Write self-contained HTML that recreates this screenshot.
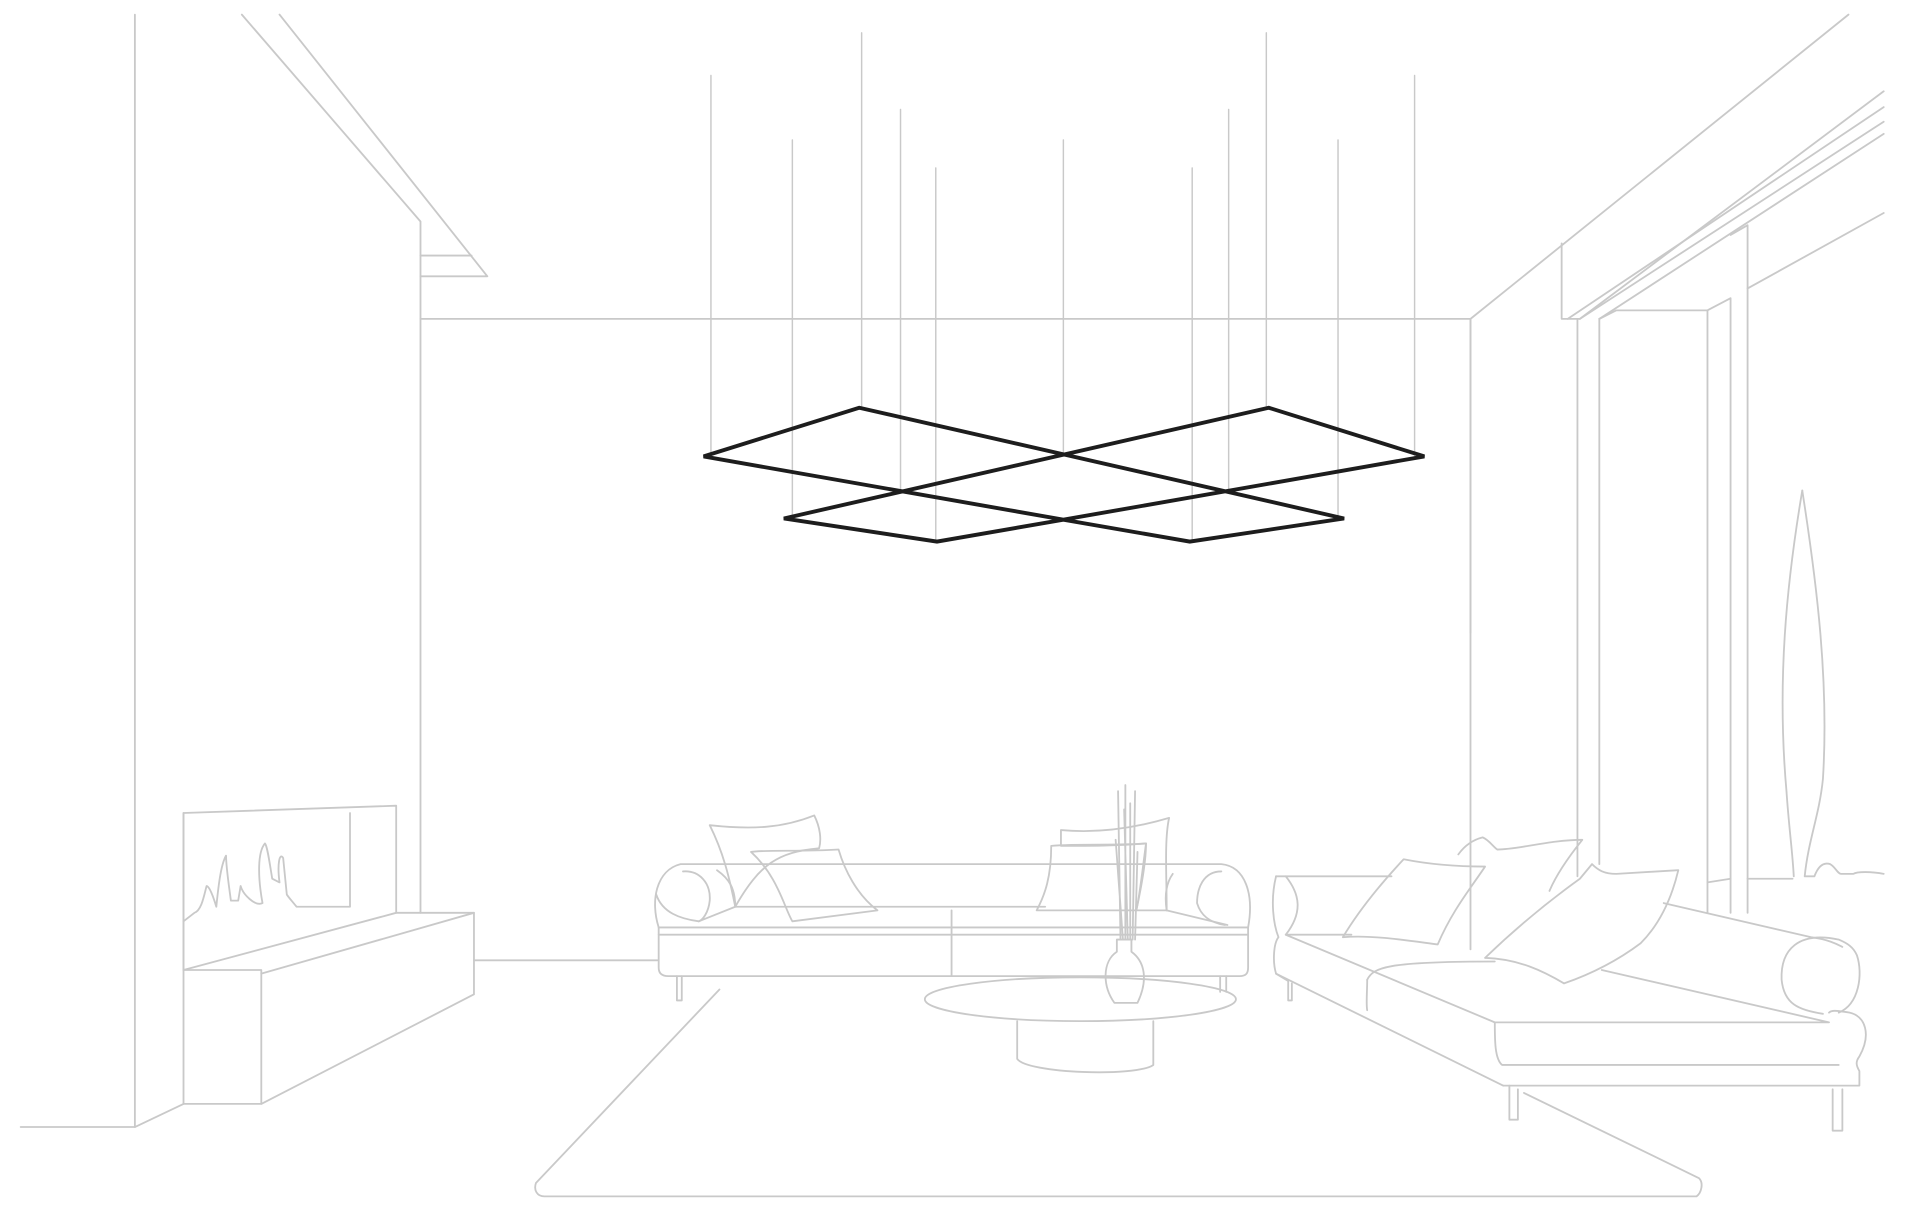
<!DOCTYPE html>
<html><head><meta charset="utf-8"><style>
html,body{margin:0;padding:0;background:#fff;}
svg{display:block;}
</style></head><body>
<svg width="1908" height="1211" viewBox="0 0 1570 995" preserveAspectRatio="none" xmlns="http://www.w3.org/2000/svg">
<g fill="none" stroke="#c9c9c9" stroke-width="1.5" stroke-linejoin="round" stroke-linecap="round">
<path d="M111 12 V926 H17"/>
<path d="M111 926 L151 907"/>
<path d="M199 12 L346 182 V750"/>
<path d="M230 12 L401 227 H346"/>
<path d="M346 210 H388"/>
<path d="M346 262 H1210 V520"/>
<path d="M1210 262 L1521 12"/>
<path d="M1210 262 V780"/>
<path d="M1285 200 V262 H1300 L1550 75"/>
<path d="M1290 262 L1550 88"/>
<path d="M1300 262 L1550 100"/>
<path d="M1316 262 L1550 110"/>
<path d="M1298 262 V720"/>
<path d="M1316 262 V710"/>
<path d="M1316 262 L1330 255 H1405 V750"/>
<path d="M1405 255 L1424 245 V750"/>
<path d="M1424 193 L1438 185 V750"/>
<path d="M1438 237 L1550 175"/>
<path d="M1438 722 H1475"/>
<path d="M1405 725 L1424 722"/>
<path d="M1483 403 C1470 480 1462 560 1470 650 C1472 680 1475 700 1476 720"/>
<path d="M1483 403 C1495 480 1505 560 1500 640 C1497 670 1488 690 1485 720 H1493 C1496 712 1500 708 1506 710 C1510 712 1512 718 1515 718 H1525 C1528 716 1540 716 1550 718"/>
<path d="M151 668 L326 662 V750 H390 V817 L215 907 H151 Z"/>
<path d="M151 668 V797"/>
<path d="M151 797 L326 750"/>
<path d="M151 797 H215 V907"/>
<path d="M215 800 L390 750"/>
<path d="M288 668 V745 H244 C240 740 238 738 236 735 L233 705 C230 700 228 710 230 725 L224 722 C222 710 220 695 218 693 C212 700 212 720 216 742 C210 745 200 735 198 728 L196 740 L190 740 C188 725 186 712 186 703 C182 710 180 725 178 745 C175 735 172 728 170 728 C168 735 166 748 160 750 L151 757"/>
<path d="M390 789 H541"/>
<path d="M592 813 L441 972 C439 978 442 983 448 983 H1396 C1400 980 1402 972 1398 968 L1254 898"/>
<path d="M542 762 V795 C542 800 545 802 550 802 H1020 C1025 802 1027 800 1027 795 V762 Z"/>
<path d="M542 768 H1027"/>
<path d="M783 748 V802"/>
<path d="M557 802 V822 H561 V802"/>
<path d="M1004 802 V815 M1009 802 V815"/>
<path d="M542 762 C535 740 540 715 560 710 H1005 C1025 712 1032 735 1027 762"/>
<path d="M605 745 L575 757 C560 755 545 750 540 735"/>
<path d="M562 716 C575 715 585 725 584 740 C583 750 578 756 575 757"/>
<path d="M590 715 C600 722 605 730 605 745"/>
<path d="M1005 716 C990 716 985 730 985 742 C988 752 995 758 1008 760"/>
<path d="M960 748 L1010 760"/>
<path d="M965 718 C960 725 958 735 960 748"/>
<path d="M605 745 H860"/>
<path d="M584 678 C620 682 645 680 670 670 C675 680 676 690 674 697 C640 700 625 710 605 745 C600 720 595 700 584 678"/>
<path d="M618 700 C630 698 660 700 690 698 C695 715 705 735 722 748 L652 757 C645 745 640 720 618 700"/>
<path d="M873 682 C905 685 935 680 962 672 C958 690 960 720 960 748 L935 748 C940 725 943 705 943 693 C920 695 895 695 873 695 Z"/>
<path d="M865 695 C890 693 920 695 943 693 C940 715 938 735 935 748 H853 C860 735 865 720 865 695"/>
<path d="M920 650 L922 772 M925 665 L928 772 M930 660 L930 772 M934 650 L932 772 M918 690 L924 772 M936 700 L934 772 M926 645 L926 772"/>
<path d="M919 772 H931 V782 C942 790 945 805 936 824 H917 C907 810 907 790 919 782 Z"/>
<ellipse cx="889" cy="821" rx="128" ry="18"/>
<path d="M837 839 V870 C845 882 935 885 949 875 V839"/>
<path d="M1050 720 H1145"/>
<path d="M1050 720 C1045 740 1048 760 1052 770 C1048 775 1047 790 1050 800 L1237 892"/>
<path d="M1058 720 C1070 735 1072 750 1058 768 L1230 840"/>
<path d="M1050 800 L1060 806 V822 H1063 V808"/>
<path d="M1058 768 H1112"/>
<path d="M1237 892 H1530 V880 C1527 875 1527 872 1530 868 C1540 850 1535 835 1522 832 C1510 830 1507 830 1505 832"/>
<path d="M1230 840 C1230 855 1230 870 1236 875 H1513"/>
<path d="M1230 840 H1505 L1318 797"/>
<path d="M1242 892 V920 H1249 V895"/>
<path d="M1508 895 V929 H1516 V895"/>
<path d="M1125 805 C1125 815 1124 825 1125 830"/>
<path d="M1125 805 C1130 795 1140 790 1230 790"/>
<path d="M1369 742 L1490 770 C1505 772 1512 776 1516 778"/>
<path d="M1513 772 C1480 765 1465 780 1466 805 C1468 825 1480 830 1500 833 M1513 832 C1530 825 1533 800 1528 785 C1525 778 1520 775 1513 772"/>
<path d="M1105 770 C1120 745 1140 722 1155 706 C1175 710 1200 712 1222 712 C1210 730 1195 748 1183 776 C1160 773 1130 768 1105 770"/>
<path d="M1200 702 C1205 695 1212 690 1220 688 C1225 690 1228 695 1232 698 C1250 698 1275 690 1302 690 C1290 705 1280 720 1275 732"/>
<path d="M1222 787 C1250 760 1275 740 1300 722 L1310 710 C1315 715 1320 718 1330 718 C1345 717 1365 716 1381 715 C1375 740 1365 760 1350 775 C1330 790 1310 800 1287 808 C1270 798 1250 788 1222 787"/>
<path d="M585 62V375 M652 115V426 M709 27V335 M741 90V404 M770 138V445 M875 115V373 M981 138V445 M1011 90V404 M1042 27V335 M1101 115V426 M1164 62V375" stroke-width="1.2"/>
</g>
<g fill="none" stroke="#1d1d1d" stroke-width="3.2" stroke-linejoin="miter">
<path d="M579 375 L707 335 L1106 426 L979 445 L875 427 L771 445 L645 426 L1044 335 L1172 375 L875 427 Z"/>
</g>
</svg>
</body></html>
